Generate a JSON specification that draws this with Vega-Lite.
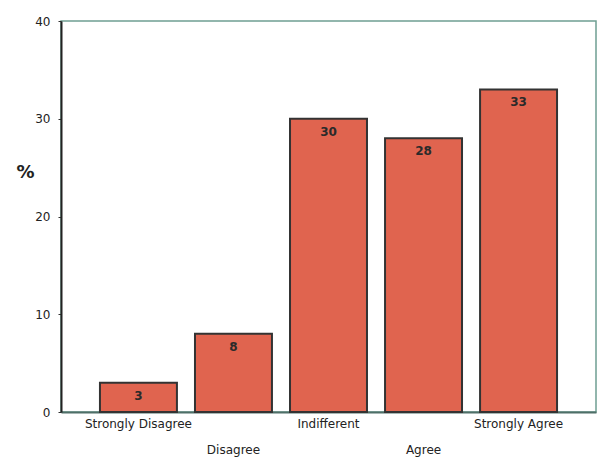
{
  "$schema": "https://vega.github.io/schema/vega-lite/v6.json",
  "width": 535,
  "height": 391,
  "autosize": {"type": "none"},
  "padding": {"left": 61, "top": 21, "right": 1, "bottom": 49},
  "background": "white",
  "config": {
    "font": "DejaVu Sans",
    "view": {"stroke": "#6f9f92", "strokeWidth": 1.5}
  },
  "data": {
    "values": [
      {"response": "Strongly Disagree", "percent": 3},
      {"response": "Disagree", "percent": 8},
      {"response": "Indifferent", "percent": 30},
      {"response": "Agree", "percent": 28},
      {"response": "Strongly Agree", "percent": 33}
    ]
  },
  "encoding": {
    "x": {
      "field": "response",
      "type": "nominal",
      "sort": null,
      "scale": {"paddingInner": 0.19, "paddingOuter": 0.41},
      "axis": {
        "title": null,
        "labelAngle": 0,
        "labelFontSize": 12,
        "labelColor": "#222222",
        "labelPadding": 6,
        "labelBaseline": "top",
        "labelLineHeight": 26,
        "labelExpr": "datum.value === 'Disagree' || datum.value === 'Agree' ? ['', datum.label] : datum.label",
        "ticks": false,
        "domainColor": "#4f6f68",
        "domainWidth": 2
      }
    },
    "y": {
      "field": "percent",
      "type": "quantitative",
      "scale": {"domain": [0, 40], "nice": false},
      "axis": {
        "title": "%",
        "titleAngle": 0,
        "titleX": -36,
        "titleY": 151,
        "titleAlign": "center",
        "titleBaseline": "middle",
        "titleFontSize": 18,
        "titleFontWeight": "bold",
        "titleColor": "#222222",
        "values": [0, 10, 20, 30, 40],
        "grid": false,
        "tickSize": 3,
        "tickColor": "#333333",
        "labelFontSize": 12,
        "labelColor": "#222222",
        "labelPadding": 8,
        "domainColor": "#222222",
        "domainWidth": 2
      }
    }
  },
  "layer": [
    {
      "mark": {"type": "bar", "fill": "#e0644f", "stroke": "#333333", "strokeWidth": 2}
    },
    {
      "mark": {"type": "text", "dy": 13, "baseline": "middle", "fontSize": 12, "fontWeight": "bold", "color": "#2a2a2a"},
      "encoding": {"text": {"field": "percent", "type": "quantitative"}}
    }
  ]
}
